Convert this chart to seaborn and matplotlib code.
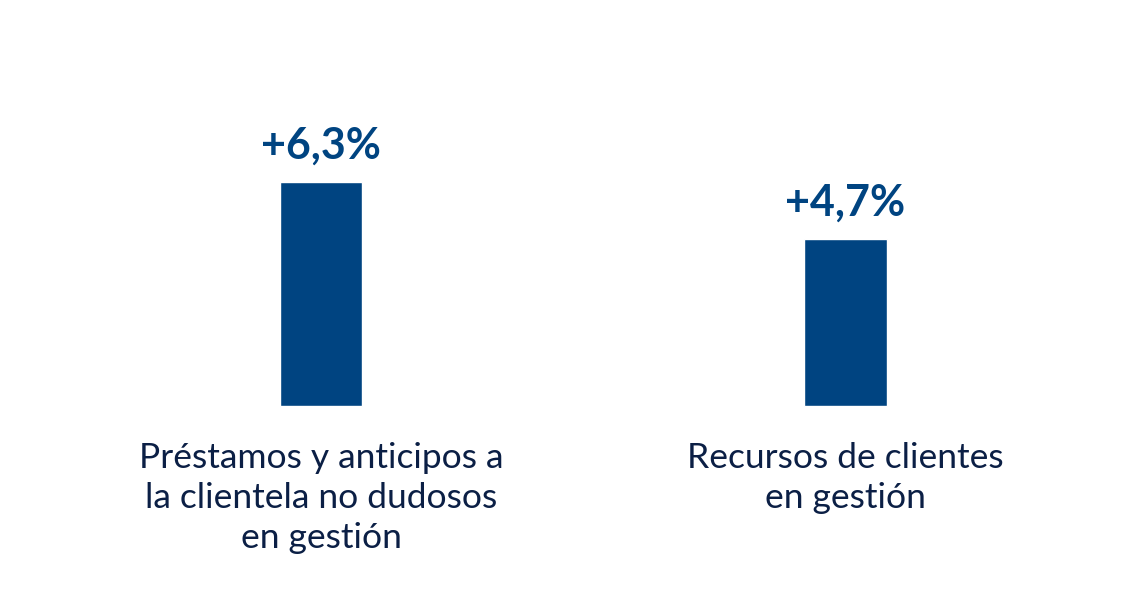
import matplotlib
matplotlib.use("Agg")
import matplotlib.pyplot as plt
import seaborn as sns
import pandas as pd

categories = ["Préstamos y anticipos a\nla clientela no dudosos\nen gestión",
              "Recursos de clientes\nen gestión"]
values = [6.3, 4.7]
value_labels = ["+6,3%", "+4,7%"]

BAR = "#004481"
TEXT = "#0B1F45"

sns.set_theme(style="white")
plt.rcParams['font.family'] = ['Lato', 'DejaVu Sans']

fig = plt.figure(figsize=(11.46, 5.94), dpi=100)
ax = fig.add_axes([0, 0, 1, 1])
df = pd.DataFrame({"cat": categories, "val": values})
sns.barplot(data=df, x="cat", y="val", color=BAR, width=0.157, saturation=1, ax=ax)

k = 6.3 / 224.0
ax.set_xlim(-321 / 524.5, 825 / 524.5)
ax.set_ylim(-188 * k, 406 * k)

ax.bar_label(ax.containers[0], labels=value_labels, padding=12,
             fontsize=31, fontweight='bold', color=BAR)

for i, c in enumerate(categories):
    ax.text(i, -36 * k, c, ha='center', va='top', fontsize=25.5,
            color=TEXT, linespacing=1.31)

ax.set_axis_off()
fig.savefig("out.png", dpi=100, facecolor="white")
